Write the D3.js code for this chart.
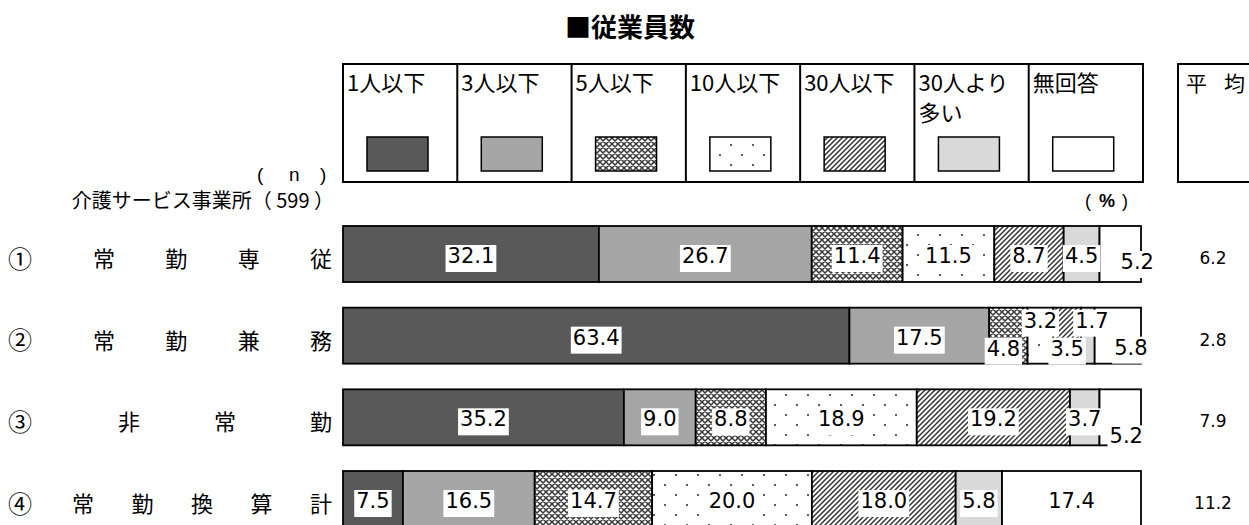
<!DOCTYPE html>
<html><head><meta charset="utf-8">
<script src="https://cdn.jsdelivr.net/npm/d3@7"></script>
<style>body{margin:0;background:#fff}</style>
</head><body>
<script>
// ---------- data ----------
const title = "■従業員数";
const categories = ["1人以下","3人以下","5人以下","10人以下","30人以下","30人より多い","無回答"];
const rowMarks = ["①","②","③","④"];
const rowNames = ["常勤専従","常勤兼務","非常勤","常勤換算計"];
const groupName = "介護サービス事業所";
const sampleSize = 599;
const row1 = [32.1, 26.7, 11.4, 11.5, 8.7, 4.5, 5.2];
const row2 = [63.4, 17.5, 4.8, 3.2, 3.5, 1.7, 5.8];
const row3 = [35.2, 9.0, 8.8, 18.9, 19.2, 3.7, 5.2];
const row4 = [7.5, 16.5, 14.7, 20.0, 18.0, 5.8, 17.4];
const averages = [6.2, 2.8, 7.9, 11.2];
const averageHeader = ["平", "均"];
const unitLabel = "%";

// ---------- layout / style ----------
const W = 1249, H = 525;
const jp = "'Noto Sans CJK JP', 'Noto Sans', sans-serif";
const lat = "'Liberation Sans', Arial, sans-serif";
const num = "'DejaVu Sans', Verdana, sans-serif";
const fills = ["#595959", "#a6a6a6", "url(#pCross)", "url(#pDots)", "url(#pHatch)", "#d9d9d9", "#ffffff"];
// manual label nudges [row][segment] = [dx, dy]
const labelNudge = [
  {6: [17, 6]},
  {2: [-5, 11], 3: [0, -17], 4: [0, 11], 5: [4, -17], 6: [13, 10]},
  {6: [6, 17]},
  {}
];
const nameStartX = [93, 93, 118, 72];
const nameLastX = 310;

const svg = d3.select("body").append("svg").attr("width", W).attr("height", H)
  .style("display", "block");

// ---------- patterns ----------
const defs = svg.append("defs");
const pc = defs.append("pattern").attr("id", "pCross").attr("patternUnits", "userSpaceOnUse")
  .attr("width", 6).attr("height", 6);
pc.append("rect").attr("width", 6).attr("height", 6).attr("fill", "#ffffff");
pc.append("path").attr("d", "M0,0 L6,6 M6,0 L0,6 M-1,5 L1,7 M5,-1 L7,1 M-1,1 L1,-1 M5,7 L7,5")
  .attr("stroke", "#3a3a3a").attr("stroke-width", 1.55);
const pd = defs.append("pattern").attr("id", "pDots").attr("patternUnits", "userSpaceOnUse")
  .attr("width", 22).attr("height", 20);
pd.append("rect").attr("width", 22).attr("height", 20).attr("fill", "#ffffff");
pd.append("circle").attr("cx", 5).attr("cy", 5).attr("r", 1.1).attr("fill", "#333");
pd.append("circle").attr("cx", 16).attr("cy", 15).attr("r", 1.1).attr("fill", "#333");
const ph = defs.append("pattern").attr("id", "pHatch").attr("patternUnits", "userSpaceOnUse")
  .attr("width", 5).attr("height", 5);
ph.append("rect").attr("width", 5).attr("height", 5).attr("fill", "#ffffff");
ph.append("path").attr("d", "M-1,1 L1,-1 M0,5 L5,0 M4,6 L6,4")
  .attr("stroke", "#333").attr("stroke-width", 1.5);

// ---------- title ----------
svg.append("text").attr("x", 630).attr("y", 37).attr("text-anchor", "middle")
  .attr("font-family", jp).attr("font-weight", "bold").attr("font-size", 26).text(title);

// ---------- legend table ----------
const lx = d3.scaleBand().domain(categories).range([343, 1143]);
const leg = svg.append("g");
leg.append("rect").attr("x", 343).attr("y", 64).attr("width", 800).attr("height", 118)
  .attr("fill", "none").attr("stroke", "#000").attr("stroke-width", 2);
categories.forEach((c, i) => {
  const x0 = lx(c);
  if (i > 0) leg.append("line").attr("x1", x0).attr("x2", x0).attr("y1", 64).attr("y2", 182)
    .attr("stroke", "#000").attr("stroke-width", 2);
  const lines = c.length > 5 ? [c.slice(0, 5), c.slice(5)] : [c];
  lines.forEach((ln, k) => {
    leg.append("text").attr("x", x0 + 4).attr("y", 91 + k * 30)
      .attr("font-family", jp).attr("font-size", 22).text(ln);
  });
  leg.append("rect").attr("x", x0 + 24).attr("y", 137).attr("width", 61).attr("height", 34)
    .attr("fill", fills[i]).attr("stroke", "#000").attr("stroke-width", 1.5);
});
// average header box
svg.append("path").attr("d", "M1262,64 H1178 V182 H1262").attr("fill", "none")
  .attr("stroke", "#000").attr("stroke-width", 2);
const ah = svg.append("text").attr("y", 91).attr("font-family", jp).attr("font-size", 21);
ah.append("tspan").attr("x", 1186).text(averageHeader[0]);
ah.append("tspan").attr("x", 1224).text(averageHeader[1]);

// ---------- n header ----------
const nh = svg.append("text").attr("y", 181).attr("font-family", lat).attr("font-size", 19);
nh.append("tspan").attr("x", 257).text("(");
nh.append("tspan").attr("x", 289).text("n");
nh.append("tspan").attr("x", 320).text(")");
svg.append("text").attr("x", 334).attr("y", 208).attr("text-anchor", "end")
  .attr("font-family", jp).attr("font-size", 20)
  .text(groupName + "（ " + sampleSize + " ）");
const ut = svg.append("text").attr("y", 207).attr("font-family", lat).attr("font-size", 18);
ut.append("tspan").attr("x", 1085).text("(");
ut.append("tspan").attr("x", 1099).attr("font-weight", "bold").text(unitLabel);
ut.append("tspan").attr("x", 1122).text(")");

// ---------- bars ----------
const rows = [row1, row2, row3, row4];
const yc = d3.scalePoint().domain(rowNames).range([254, 499]);
const barH = 56;
const x = d3.scaleLinear().domain([0, 100]).range([343, 1141]);
const fmt = d3.format(".1f");

const barG = svg.append("g");
const labG = svg.append("g");
rows.forEach((vals, i) => {
  const cy = yc(rowNames[i]);
  const total = d3.sum(vals);
  let cum = 0;
  const segs = vals.map((v, j) => {
    const s = {v, j, a: cum / total * 100, b: (cum + v) / total * 100};
    cum += v;
    return s;
  });
  barG.selectAll(null).data(segs).join("rect")
    .attr("x", d => x(d.a)).attr("width", d => x(d.b) - x(d.a))
    .attr("y", cy - barH / 2).attr("height", barH)
    .attr("fill", d => fills[d.j]).attr("stroke", "#000").attr("stroke-width", 1.8);

  segs.forEach(d => {
    const nud = labelNudge[i][d.j] || [0, 0];
    const g = labG.append("g")
      .attr("transform", `translate(${x((d.a + d.b) / 2) + nud[0]},${cy + 2 + nud[1]})`);
    const t = g.append("text").attr("text-anchor", "middle").attr("dominant-baseline", "central")
      .attr("font-family", num).attr("font-size", 21).text(fmt(d.v));
    const bb = t.node().getBBox();
    g.insert("rect", "text").attr("x", bb.x - 2).attr("y", bb.y + 1)
      .attr("width", bb.width + 4).attr("height", bb.height + 3).attr("fill", "#fff");
  });

  // row label
  svg.append("text").attr("x", 8).attr("y", cy + 3).attr("dominant-baseline", "central")
    .attr("font-family", jp).attr("font-size", 24).text(rowMarks[i]);
  const chars = Array.from(rowNames[i]);
  const step = (nameLastX - nameStartX[i]) / (chars.length - 1);
  chars.forEach((ch, k) => {
    svg.append("text").attr("x", nameStartX[i] + k * step).attr("y", cy + 3)
      .attr("dominant-baseline", "central").attr("font-family", jp).attr("font-size", 22).text(ch);
  });

  // average
  svg.append("text").attr("x", 1213).attr("y", cy + 4).attr("text-anchor", "middle")
    .attr("dominant-baseline", "central").attr("font-family", num).attr("font-size", 17)
    .text(fmt(averages[i]));
});
</script>
</body></html>
